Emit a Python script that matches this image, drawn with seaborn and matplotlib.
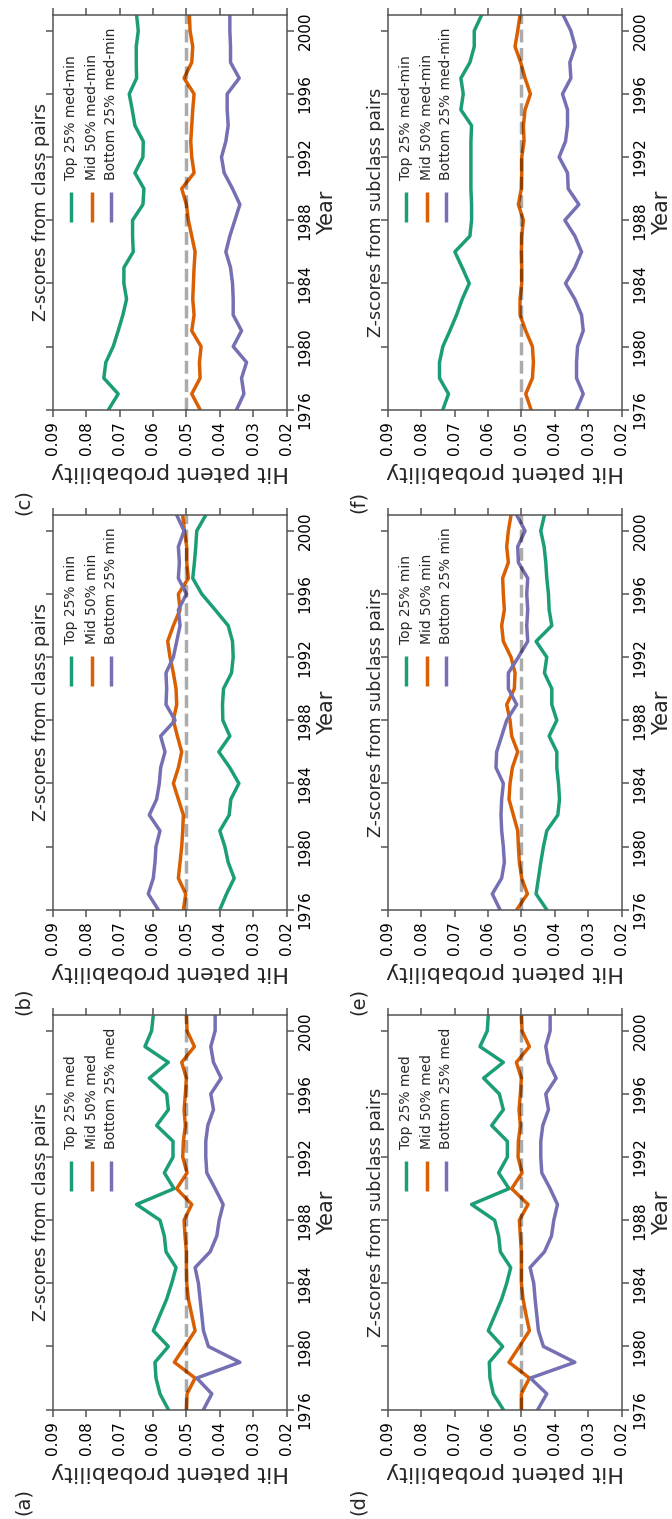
import matplotlib
matplotlib.use('Agg')
import matplotlib.pyplot as plt
import seaborn as sns
import pandas as pd

# years on the time axis
years = [1976, 1977, 1978, 1979, 1980, 1981, 1982, 1983, 1984, 1985, 1986, 1987, 1988,
         1989, 1990, 1991, 1992, 1993, 1994, 1995, 1996, 1997, 1998, 1999, 2000, 2001]

# (a) class pairs, med
a_top = [0.0554, 0.0579, 0.0591, 0.0594, 0.0554, 0.0599, 0.0579, 0.0559, 0.0544, 0.0531, 0.0561, 0.0566, 0.0579,
         0.0649, 0.0537, 0.0566, 0.0540, 0.0540, 0.0589, 0.0554, 0.0559, 0.0611, 0.0554, 0.0624, 0.0604, 0.0599]
a_mid = [0.0500, 0.0498, 0.0474, 0.0536, 0.0505, 0.0474, 0.0484, 0.0494, 0.0499, 0.0500, 0.0500, 0.0504, 0.0507,
         0.0484, 0.0529, 0.0498, 0.0511, 0.0509, 0.0503, 0.0507, 0.0503, 0.0500, 0.0514, 0.0476, 0.0498, 0.0500]
a_bot = [0.0449, 0.0424, 0.0469, 0.0340, 0.0434, 0.0449, 0.0454, 0.0459, 0.0464, 0.0474, 0.0429, 0.0409, 0.0402,
         0.0390, 0.0414, 0.0439, 0.0442, 0.0442, 0.0436, 0.0419, 0.0427, 0.0396, 0.0419, 0.0427, 0.0414, 0.0414]

# (b) class pairs, min
b_top = [0.0400, 0.0380, 0.0357, 0.0375, 0.0385, 0.0400, 0.0372, 0.0367, 0.0343, 0.0370, 0.0403, 0.0370, 0.0391,
         0.0392, 0.0389, 0.0365, 0.0360, 0.0362, 0.0375, 0.0414, 0.0454, 0.0481, 0.0476, 0.0472, 0.0469, 0.0442]
b_mid = [0.0509, 0.0502, 0.0524, 0.0519, 0.0514, 0.0511, 0.0509, 0.0524, 0.0539, 0.0524, 0.0514, 0.0527, 0.0539,
         0.0529, 0.0531, 0.0539, 0.0549, 0.0556, 0.0539, 0.0519, 0.0524, 0.0494, 0.0499, 0.0499, 0.0506, 0.0511]
b_bot = [0.0584, 0.0614, 0.0599, 0.0594, 0.0591, 0.0579, 0.0611, 0.0589, 0.0581, 0.0577, 0.0564, 0.0577, 0.0534,
         0.0561, 0.0559, 0.0561, 0.0539, 0.0529, 0.0519, 0.0524, 0.0500, 0.0524, 0.0521, 0.0524, 0.0507, 0.0529]

# (c) class pairs, med-min
c_top = [0.0733, 0.0704, 0.0747, 0.0741, 0.0719, 0.0704, 0.0690, 0.0679, 0.0687, 0.0687, 0.0659, 0.0661, 0.0661,
         0.0630, 0.0627, 0.0654, 0.0630, 0.0629, 0.0654, 0.0662, 0.0671, 0.0649, 0.0650, 0.0650, 0.0644, 0.0649]
c_mid = [0.0459, 0.0484, 0.0459, 0.0461, 0.0456, 0.0484, 0.0477, 0.0481, 0.0479, 0.0477, 0.0474, 0.0484, 0.0494,
         0.0500, 0.0514, 0.0477, 0.0484, 0.0487, 0.0484, 0.0481, 0.0477, 0.0507, 0.0484, 0.0481, 0.0489, 0.0491]
c_bot = [0.0350, 0.0328, 0.0335, 0.0320, 0.0360, 0.0335, 0.0360, 0.0360, 0.0362, 0.0368, 0.0382, 0.0370, 0.0355,
         0.0340, 0.0362, 0.0387, 0.0395, 0.0382, 0.0375, 0.0378, 0.0378, 0.0342, 0.0368, 0.0368, 0.0370, 0.0370]

# (d) subclass pairs, med
d_top = [0.0554, 0.0584, 0.0594, 0.0596, 0.0556, 0.0599, 0.0579, 0.0559, 0.0544, 0.0532, 0.0563, 0.0568, 0.0580,
         0.0649, 0.0537, 0.0568, 0.0542, 0.0542, 0.0589, 0.0554, 0.0566, 0.0613, 0.0554, 0.0624, 0.0602, 0.0599]
d_mid = [0.0500, 0.0500, 0.0476, 0.0537, 0.0506, 0.0476, 0.0486, 0.0495, 0.0500, 0.0500, 0.0500, 0.0503, 0.0506,
         0.0480, 0.0529, 0.0498, 0.0510, 0.0509, 0.0503, 0.0507, 0.0503, 0.0500, 0.0515, 0.0476, 0.0498, 0.0500]
d_bot = [0.0451, 0.0424, 0.0473, 0.0340, 0.0434, 0.0449, 0.0454, 0.0459, 0.0463, 0.0474, 0.0431, 0.0410, 0.0403,
         0.0392, 0.0414, 0.0439, 0.0442, 0.0442, 0.0436, 0.0419, 0.0427, 0.0396, 0.0419, 0.0427, 0.0414, 0.0414]

# (e) subclass pairs, min
e_top = [0.0424, 0.0456, 0.0449, 0.0442, 0.0434, 0.0424, 0.0391, 0.0386, 0.0389, 0.0394, 0.0394, 0.0417, 0.0394,
         0.0409, 0.0409, 0.0431, 0.0424, 0.0456, 0.0409, 0.0417, 0.0419, 0.0424, 0.0427, 0.0432, 0.0442, 0.0431]
e_mid = [0.0514, 0.0482, 0.0499, 0.0506, 0.0509, 0.0511, 0.0524, 0.0537, 0.0534, 0.0527, 0.0511, 0.0529, 0.0534,
         0.0544, 0.0521, 0.0519, 0.0531, 0.0554, 0.0559, 0.0551, 0.0554, 0.0556, 0.0539, 0.0544, 0.0539, 0.0531]
e_bot = [0.0564, 0.0587, 0.0559, 0.0551, 0.0554, 0.0559, 0.0561, 0.0559, 0.0554, 0.0576, 0.0574, 0.0559, 0.0544,
         0.0514, 0.0539, 0.0539, 0.0509, 0.0481, 0.0484, 0.0481, 0.0484, 0.0481, 0.0509, 0.0511, 0.0489, 0.0514]

# (f) subclass pairs, med-min
f_top = [0.0735, 0.0718, 0.0745, 0.0745, 0.0735, 0.0714, 0.0694, 0.0677, 0.0656, 0.0677, 0.0699, 0.0654, 0.0649,
         0.0649, 0.0651, 0.0651, 0.0651, 0.0651, 0.0649, 0.0681, 0.0674, 0.0681, 0.0654, 0.0641, 0.0641, 0.0619]
f_mid = [0.0471, 0.0487, 0.0467, 0.0464, 0.0467, 0.0487, 0.0504, 0.0504, 0.0499, 0.0499, 0.0500, 0.0499, 0.0494,
         0.0509, 0.0500, 0.0499, 0.0499, 0.0492, 0.0494, 0.0489, 0.0473, 0.0489, 0.0502, 0.0519, 0.0511, 0.0504]
f_bot = [0.0335, 0.0315, 0.0335, 0.0335, 0.0332, 0.0315, 0.0320, 0.0340, 0.0368, 0.0340, 0.0320, 0.0340, 0.0370,
         0.0328, 0.0360, 0.0362, 0.0387, 0.0368, 0.0362, 0.0362, 0.0377, 0.0352, 0.0355, 0.0339, 0.0352, 0.0375]

prob_ticks = [0.09, 0.08, 0.07, 0.06, 0.05, 0.04, 0.03, 0.02]
year_ticks = [1976, 1980, 1984, 1988, 1992, 1996, 2000]
colors = ['#1b9e77', '#d95f02', '#7570b3']

sns.set_style('white')
plt.rcParams['font.family'] = ['DejaVu Sans']

fig = plt.figure(figsize=(6.72, 15.19), dpi=100)
W, H = 672.0, 1519.0

# panel layout: the original 2x3 landscape figure is turned a quarter turn
col_left = [0.0784, 0.5769]
row_bottom = [0.0720, 0.4011, 0.7303]
ax_w, ax_h = 0.3482, 0.2598

panels = [
    ('(a)', 0, 0, 'Z-scores from class pairs', 'med', (a_top, a_mid, a_bot)),
    ('(b)', 0, 1, 'Z-scores from class pairs', 'min', (b_top, b_mid, b_bot)),
    ('(c)', 0, 2, 'Z-scores from class pairs', 'med-min', (c_top, c_mid, c_bot)),
    ('(d)', 1, 0, 'Z-scores from subclass pairs', 'med', (d_top, d_mid, d_bot)),
    ('(e)', 1, 1, 'Z-scores from subclass pairs', 'min', (e_top, e_mid, e_bot)),
    ('(f)', 1, 2, 'Z-scores from subclass pairs', 'med-min', (f_top, f_mid, f_bot)),
]

legend_items = []

for tag, col, row, title, kind, series in panels:
    ax = fig.add_axes([col_left[col], row_bottom[row], ax_w, ax_h])
    labels = ['Top 25% ' + kind, 'Mid 50% ' + kind, 'Bottom 25% ' + kind]

    df = pd.DataFrame({
        'year': years * 3,
        'value': list(series[0]) + list(series[1]) + list(series[2]),
        'group': [labels[0]] * len(years) + [labels[1]] * len(years) + [labels[2]] * len(years),
    })
    sns.lineplot(data=df, x='value', y='year', hue='group', hue_order=labels,
                 palette=dict(zip(labels, colors)), orient='y', estimator=None,
                 legend=False, lw=2.5, ax=ax)
    ax.axvline(0.05, color='k', alpha=0.33, ls='--', lw=2.5, zorder=5)

    ax.set_xlim(0.09, 0.02)
    ax.set_ylim(1976, 2001)
    ax.set_xticks(prob_ticks)
    ax.set_xticklabels(['%.2f' % t for t in prob_ticks])
    ax.set_yticks(year_ticks)
    ax.set_yticklabels([str(y) for y in year_ticks])

    ax.tick_params(axis='both', direction='out', length=5, width=1.1, color='#555555',
                   labelsize=11, labelcolor='black')
    ax.tick_params(axis='x', top=True, bottom=True, labelbottom=True, labelrotation=90)
    ax.tick_params(axis='y', left=True, right=True, labelleft=False, labelright=True,
                   labelrotation=90, pad=3)
    for lbl in ax.get_yticklabels():
        lbl.set_va('center')

    for sp in ax.spines.values():
        sp.set_color('#555555')
        sp.set_linewidth(1.1)

    ax.set_xlabel('Hit patent probability', fontsize=16, rotation=180, labelpad=5)
    ax.yaxis.set_label_position('right')
    ax.set_ylabel('Year', fontsize=15, rotation=90, labelpad=3)

    ax.text(-0.012, 0.5, title, transform=ax.transAxes, rotation=90,
            ha='right', va='center', fontsize=12.5)

    # panel tag
    x_px = col_left[col] * W - 29
    y_px = row_bottom[row] * H - 92
    fig.text(x_px / W, y_px / H, tag, rotation=90, ha='center', va='center', fontsize=14)

    # rotated legend (handles under the text, texts start on a common line)
    xs = [0.077, 0.166, 0.251]
    texts = [ax.text(x, 0.6, lab, transform=ax.transAxes, rotation=90, ha='center',
                     va='bottom', fontsize=10) for x, lab in zip(xs, labels)]
    legend_items.append((ax, xs, texts))

fig.canvas.draw()
renderer = fig.canvas.get_renderer()
for ax, xs, texts in legend_items:
    ax_px_h = ax.get_window_extent(renderer).height
    longest = max(t.get_window_extent(renderer).height for t in texts) / ax_px_h
    y_text = 0.968 - longest
    y_top = y_text - 12.0 / ax_px_h
    y_bot = y_top - 30.0 / ax_px_h
    for x, t, c in zip(xs, texts, colors):
        t.set_position((x, y_text))
        ax.plot([x, x], [y_bot, y_top], transform=ax.transAxes, color=c, lw=2.5,
                solid_capstyle='butt', clip_on=False)

fig.savefig('out.png', dpi=100)
